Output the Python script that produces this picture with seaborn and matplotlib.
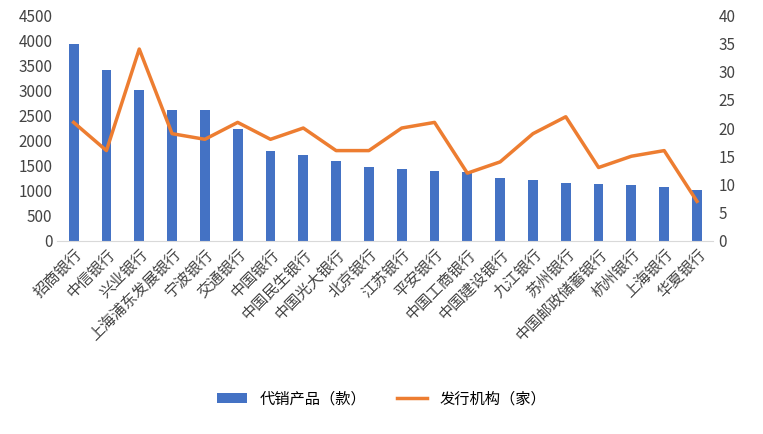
import matplotlib
matplotlib.use("Agg")
import matplotlib.pyplot as plt
from matplotlib import font_manager
import seaborn as sns
import pandas as pd

banks = ["招商银行","中信银行","兴业银行","上海浦东发展银行","宁波银行","交通银行","中国银行","中国民生银行","中国光大银行","北京银行","江苏银行","平安银行","中国工商银行","中国建设银行","九江银行","苏州银行","中国邮政储蓄银行","杭州银行","上海银行","华夏银行"]
products = [3930,3400,3000,2600,2600,2230,1800,1720,1590,1470,1430,1390,1380,1250,1220,1160,1140,1120,1080,1020]
issuers = [21,16,34,19,18,21,18,20,16,16,20,21,12,14,19,22,13,15,16,7]

cjk = sorted({f.name for f in font_manager.fontManager.ttflist if "CJK" in f.name})
pref = [n for n in ["Noto Sans CJK SC","Noto Sans CJK JP","Noto Sans CJK TC","Noto Sans CJK KR"] if n in cjk] + cjk
plt.rcParams["font.family"] = "sans-serif"
plt.rcParams["font.sans-serif"] = pref + ["DejaVu Sans"]
df = pd.DataFrame({"bank": banks, "products": products, "issuers": issuers})

fig = plt.figure(figsize=(7.63, 4.34), dpi=100)
ax = fig.add_axes([0.075, 0.445, 0.86, 0.52])
sns.barplot(data=df, x="bank", y="products", color="#4472C4", saturation=1, width=0.3, ax=ax, label="代销产品（款）")
ax2 = ax.twinx()
sns.lineplot(x=list(range(len(banks))), y=issuers, color="#ED7D31", lw=2.5, ax=ax2, label="发行机构（家）", legend=False)
ax.set_ylim(0, 4500); ax.set_yticks(range(0, 4501, 500))
ax2.set_ylim(0, 40); ax2.set_yticks(range(0, 41, 5))
ax.set_xlim(-0.5, len(banks) - 0.5)
ax.set_xlabel(""); ax.set_ylabel(""); ax2.set_ylabel("")
ax.set_xticks(range(len(banks)))
ax.set_xticklabels(banks, rotation=45, ha="right", rotation_mode="anchor", fontsize=11, color="#444")
for a in (ax, ax2):
    a.tick_params(axis="y", labelsize=11, colors="#444", length=0)
    for s in a.spines.values():
        s.set_visible(False)
ax.tick_params(axis="x", length=0)
ax.spines["bottom"].set_visible(True); ax.spines["bottom"].set_color("#d9d9d9")
if ax.get_legend(): ax.get_legend().remove()
h1, l1 = ax.get_legend_handles_labels()
h2, l2 = ax2.get_legend_handles_labels()
fig.legend(h1 + h2, l1 + l2, loc="lower center", bbox_to_anchor=(0.5, 0.03), ncol=2, frameon=False, fontsize=11)
fig.savefig("out.png", dpi=100)
